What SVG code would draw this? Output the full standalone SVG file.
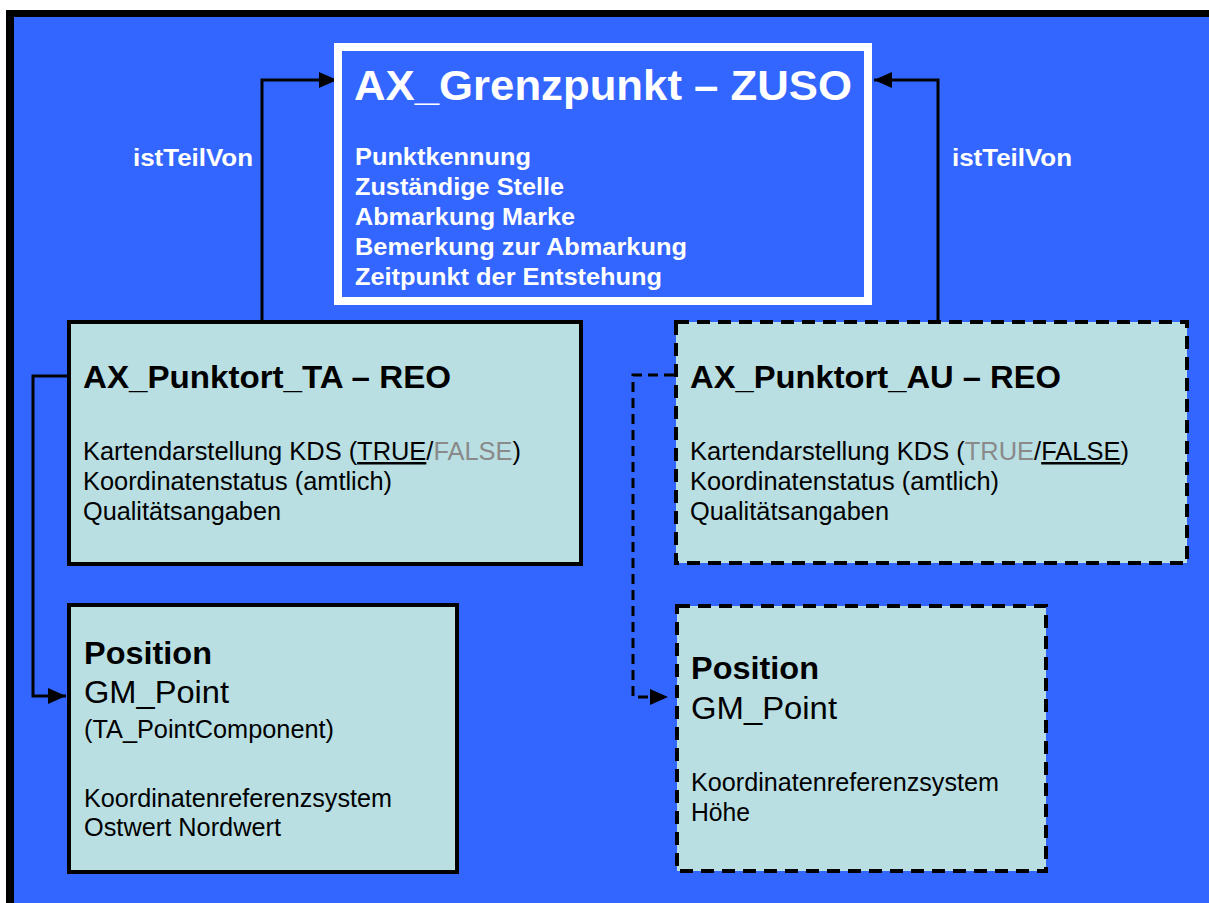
<svg xmlns="http://www.w3.org/2000/svg" width="1209" height="903" viewBox="0 0 1209 903">
<style>
  text { font-family: "Liberation Sans", Arial, sans-serif; }
  .lbl { font-size: 24.5px; font-weight: bold; fill: #ffffff; }
  .ttl { font-size: 43px; font-weight: bold; fill: #ffffff; }
  .hdr { font-size: 32px; font-weight: bold; fill: #000000; }
  .pos { font-size: 32px; font-weight: bold; fill: #000000; }
  .gm { font-size: 32px; fill: #000000; }
  .att { font-size: 25px; fill: #000000; }
  .gray { fill: #8a8a8a; }
  .box { fill: #b9dfe3; stroke: #000000; stroke-width: 4; }
  .dbox { fill: #b9dfe3; stroke: #000000; stroke-width: 4; stroke-dasharray: 13 8; }
  .con { fill: none; stroke: #000000; stroke-width: 3; }
  .dcon { fill: none; stroke: #000000; stroke-width: 3; stroke-dasharray: 10 6; }
</style>
<defs>
  <marker id="arr" markerUnits="userSpaceOnUse" markerWidth="18" markerHeight="16" refX="18" refY="8" orient="auto">
    <path d="M0,0 L18,8 L0,16 z" fill="#000000"/>
  </marker>
</defs>
<rect x="0" y="0" width="1209" height="903" fill="#ffffff"/>
<rect x="6" y="10" width="1210" height="900" fill="#000000"/>
<rect x="14" y="17" width="1195" height="890" fill="#3366ff"/>

<g id="connectors">
  <path class="con" d="M262 320 V80 H337" marker-end="url(#arr)"/>
  <path class="con" d="M938 320 V80 H874" marker-end="url(#arr)"/>
  <path class="con" d="M67 376 H33 V696 H66" marker-end="url(#arr)"/>
  <path class="dcon" d="M674 375 H633 V697 H668" marker-end="url(#arr)"/>
  <text class="lbl" x="133" y="166" textLength="120" lengthAdjust="spacingAndGlyphs">istTeilVon</text>
  <text class="lbl" x="952" y="166" textLength="120" lengthAdjust="spacingAndGlyphs">istTeilVon</text>
</g>

<g id="grenzpunkt">
  <rect x="338" y="47" width="530" height="254" fill="#3366ff" stroke="#ffffff" stroke-width="8"/>
  <text class="ttl" x="354" y="100" textLength="498" lengthAdjust="spacingAndGlyphs">AX_Grenzpunkt – ZUSO</text>
  <text class="lbl" x="355" y="165" textLength="176" lengthAdjust="spacingAndGlyphs">Punktkennung</text>
  <text class="lbl" x="355" y="195" textLength="209" lengthAdjust="spacingAndGlyphs">Zuständige Stelle</text>
  <text class="lbl" x="355" y="225" textLength="220" lengthAdjust="spacingAndGlyphs">Abmarkung Marke</text>
  <text class="lbl" x="355" y="255" textLength="332" lengthAdjust="spacingAndGlyphs">Bemerkung zur Abmarkung</text>
  <text class="lbl" x="355" y="285" textLength="307" lengthAdjust="spacingAndGlyphs">Zeitpunkt der Entstehung</text>
</g>

<g id="punktort_ta">
  <rect class="box" x="69" y="322" width="512" height="242"/>
  <text class="hdr" x="83" y="388" textLength="368" lengthAdjust="spacingAndGlyphs">AX_Punktort_TA – REO</text>
  <text class="att" x="83" y="460" textLength="438" lengthAdjust="spacingAndGlyphs">Kartendarstellung KDS (<tspan text-decoration="underline">TRUE</tspan>/<tspan class="gray">FALSE</tspan>)</text>
  <text class="att" x="83" y="490" textLength="309" lengthAdjust="spacingAndGlyphs">Koordinatenstatus (amtlich)</text>
  <text class="att" x="83" y="520" textLength="198" lengthAdjust="spacingAndGlyphs">Qualitätsangaben</text>
</g>

<g id="punktort_au">
  <rect class="dbox" x="676" y="322" width="511" height="241"/>
  <text class="hdr" x="690" y="388" textLength="371" lengthAdjust="spacingAndGlyphs">AX_Punktort_AU – REO</text>
  <text class="att" x="690" y="460" textLength="439" lengthAdjust="spacingAndGlyphs">Kartendarstellung KDS (<tspan class="gray">TRUE</tspan>/<tspan text-decoration="underline">FALSE</tspan>)</text>
  <text class="att" x="690" y="490" textLength="309" lengthAdjust="spacingAndGlyphs">Koordinatenstatus (amtlich)</text>
  <text class="att" x="690" y="520" textLength="199" lengthAdjust="spacingAndGlyphs">Qualitätsangaben</text>
</g>

<g id="position_ta">
  <rect class="box" x="69" y="605" width="388" height="267"/>
  <text class="pos" x="84" y="664" textLength="128" lengthAdjust="spacingAndGlyphs">Position</text>
  <text class="gm" x="84" y="703" textLength="145" lengthAdjust="spacingAndGlyphs">GM_Point</text>
  <text class="att" x="84" y="738" textLength="250" lengthAdjust="spacingAndGlyphs">(TA_PointComponent)</text>
  <text class="att" x="84" y="807" textLength="308" lengthAdjust="spacingAndGlyphs">Koordinatenreferenzsystem</text>
  <text class="att" x="84" y="836" textLength="197" lengthAdjust="spacingAndGlyphs">Ostwert Nordwert</text>
</g>

<g id="position_au">
  <rect class="dbox" x="677" y="606" width="369" height="265"/>
  <text class="pos" x="691" y="679" textLength="128" lengthAdjust="spacingAndGlyphs">Position</text>
  <text class="gm" x="691" y="719" textLength="146" lengthAdjust="spacingAndGlyphs">GM_Point</text>
  <text class="att" x="691" y="791" textLength="308" lengthAdjust="spacingAndGlyphs">Koordinatenreferenzsystem</text>
  <text class="att" x="691" y="821" textLength="59" lengthAdjust="spacingAndGlyphs">Höhe</text>
</g>
</svg>
